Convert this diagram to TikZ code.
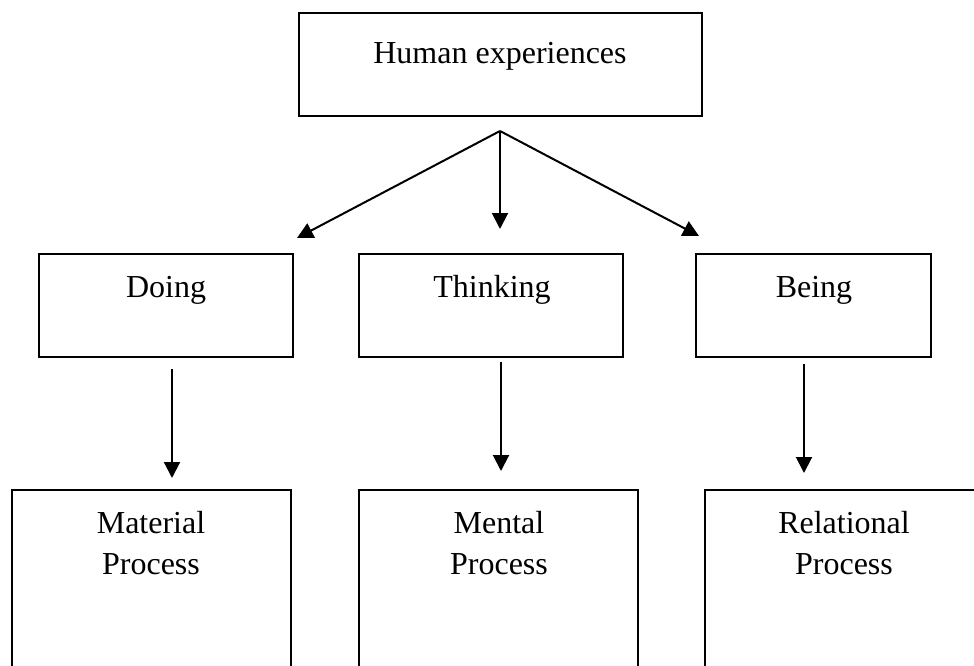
\documentclass[tikz,border=0pt]{standalone}
\usepackage{fontspec}
\setmainfont{Liberation Serif}
\usetikzlibrary{arrows.meta}
\begin{document}
\begin{tikzpicture}[x=1pt,y=-1pt,
  box/.style={draw=black, line width=2pt, inner sep=0pt, fill=none},
  lbl/.style={anchor=base, inner sep=0pt, font=\fontsize{32}{41}\selectfont, align=center},
  conn/.style={line width=2pt, -{Triangle[width=16pt,length=16pt]}}]
\useasboundingbox (0,0) rectangle (974,666);
\clip (0,0) rectangle (974,666);
% boxes
\node[box, minimum width=403pt, minimum height=103pt] (top) at (500.5,64.5) {};
\node[box, minimum width=254pt, minimum height=103pt] (doing) at (166,305.5) {};
\node[box, minimum width=264pt, minimum height=103pt] (thinking) at (491,305.5) {};
\node[box, minimum width=235pt, minimum height=103pt] (being) at (813.5,305.5) {};
\node[box, minimum width=279pt, minimum height=220pt] (material) at (151.5,600) {};
\node[box, minimum width=279pt, minimum height=220pt] (mental) at (498.5,600) {};
\node[box, minimum width=295pt, minimum height=220pt] (relational) at (852.5,600) {};
% texts
\node[lbl] (ttop) at (500,64) {Human experiences};
\node[lbl] (tdoing) at (166,297) {Doing};
\node[lbl] (tthinking) at (492,297) {Thinking};
\node[lbl] (tbeing) at (814,297) {Being};
\node[lbl] (tmat) at (151,574) {Material\\Process};
\node[lbl] (tmen) at (499,574) {Mental\\Process};
\node[lbl] (trel) at (844,574) {Relational\\Process};
% connector end points
\coordinate (hs) at (500,131);
\coordinate (hd) at (297,238);
\coordinate (ht) at (500,229);
\coordinate (hb) at (699,236);
\coordinate (ds) at (172,369);
\coordinate (de) at (172,478);
\coordinate (ts) at (501,362);
\coordinate (te) at (501,471);
\coordinate (bs) at (804,364);
\coordinate (be) at (804,473);
% connectors
\draw[conn] (hs) -- (hd);
\draw[conn] (hs) -- (ht);
\draw[conn] (hs) -- (hb);
\draw[conn] (ds) -- (de);
\draw[conn] (ts) -- (te);
\draw[conn] (bs) -- (be);
\end{tikzpicture}
\end{document}
